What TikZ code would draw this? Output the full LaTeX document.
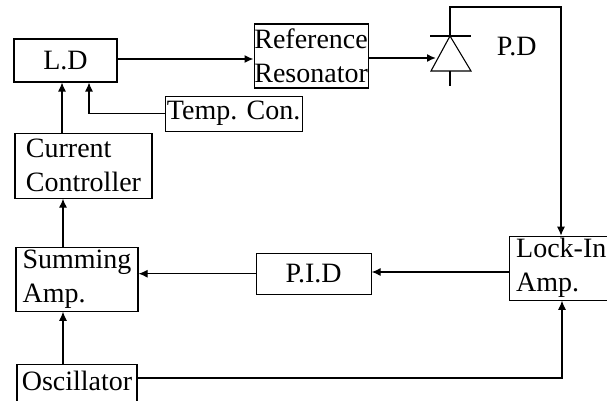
\documentclass[tikz,border=0pt]{standalone}
\usepackage{fontspec}
\setmainfont{Liberation Serif}
\usetikzlibrary{arrows.meta, positioning}

\begin{document}
\begin{tikzpicture}[x=1pt, y=1pt, line width=1.1pt,
    every node/.style={font=\fontsize{28}{34}\selectfont},
    box/.style={draw, inner sep=0pt, align=left},
    link/.style={-{Latex[length=9pt,width=8pt]}}]
    \useasboundingbox (0,0) rectangle (607,-401);
    \node[box,minimum width=103pt,minimum height=43pt] (ld) at (65.5,-60.5) {L.D};
    \node[box,minimum width=114pt,minimum height=64pt,right=136pt of ld,yshift=4.5pt] (ref) {Reference\\Resonator};
    \node[box,minimum width=137pt,minimum height=35pt,below=7pt of ref,xshift=-77.5pt] (temp) {Temp. Con.};
    \node[box,minimum width=137pt,minimum height=65pt,below=50pt of ld,xshift=18pt] (curr) {Current\\Controller};
    \node[box,minimum width=122pt,minimum height=64pt,below=48pt of curr,xshift=-6.5pt] (sum) {Summing\\Amp.};
    \node[box,minimum width=120pt,minimum height=40pt,text depth=8pt,below=52pt of sum] (osc) {Oscillator};
    \node[box,minimum width=115pt,minimum height=41pt,right=117pt of sum,yshift=5.5pt] (pid) {P.I.D};
    \node[box,minimum width=120pt,minimum height=64pt,right=137pt of pid,yshift=5.5pt,text width=106pt] (lock) {Lock-In\\Amp.};
    % photodiode
    \coordinate (pdtop) at (450,-36);
    \coordinate (pdleft) at (431,-71);
    \coordinate (pdright) at (471,-71);
    \coordinate (pdend) at (450,-86);
    \coordinate (pdin) at (436,-58);
    \coordinate (pdturn) at (561,-7);
    \draw (430,-36) -- (471,-36);
    \draw (pdtop) -- (pdleft) -- (pdright) -- cycle;
    \draw (450,-71) -- (pdend);
    \node[right=43pt of pdtop,yshift=-11pt,anchor=west] (pdname) {P.D};
    % forward path
    \draw[link,line width=1.6pt] (ld.east |- 0,-59) -- (ref.west |- 0,-59);
    \draw[link,line width=1.6pt] (ref.east |- pdin) -- (pdin);
    \draw[link] (pdtop) |- (pdturn) -- (pdturn |- lock.north);
    \draw[link] (lock.west |- 0,-272) -- (pid.east |- 0,-272);
    \draw[link] (pid.west) -- (pid.west -| sum.east);
    \draw[link] (osc.north -| 63,0) -- (sum.south -| 63,0);
    \draw[link] (sum.north -| 63,0) -- (curr.south -| 63,0);
    \draw[link] (curr.north -| 62,0) -- (ld.south -| 62,0);
    \draw[link] (temp.west) -| (ld.south -| 89,0);
    \draw[link] (osc.east |- 0,-378) -| (lock.south -| 562,0);
\end{tikzpicture}
\end{document}
